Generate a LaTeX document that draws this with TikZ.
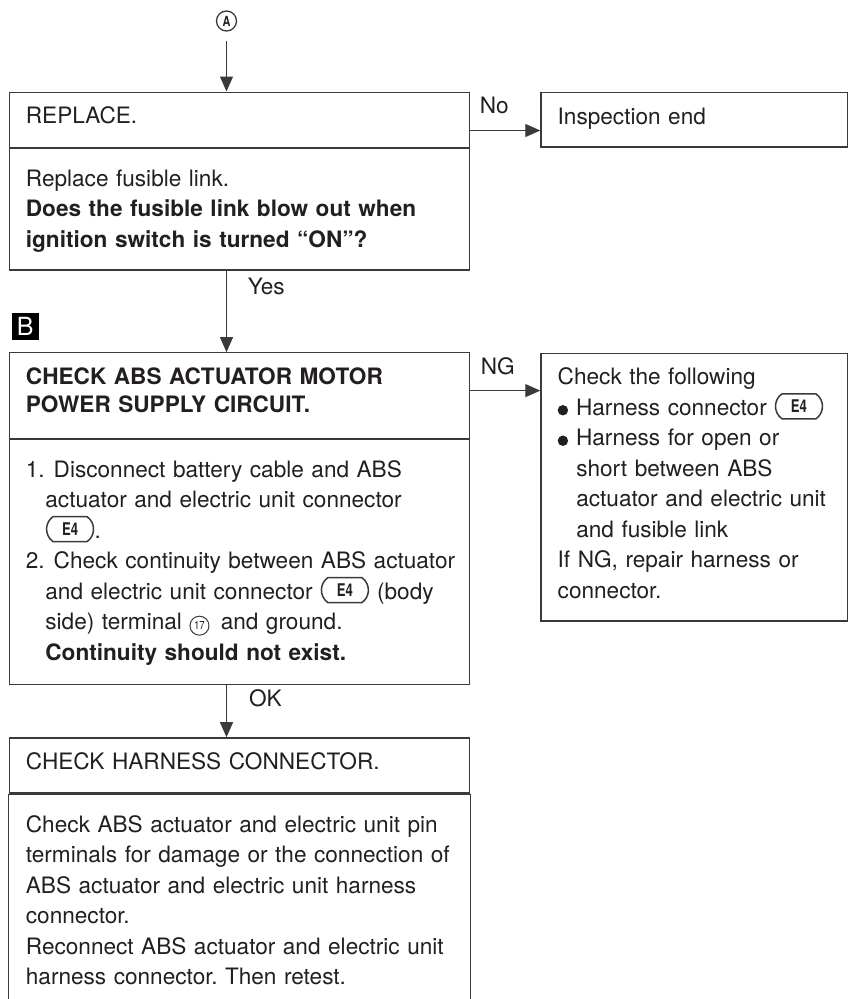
\documentclass[tikz,border=0pt]{standalone}
\usepackage{graphicx}
\usepackage{fontspec}
\setmainfont{TeX Gyre Heros}
\usetikzlibrary{arrows.meta, positioning, shapes.misc, calc}
\definecolor{ink}{HTML}{231F20}
\definecolor{rule}{HTML}{3A3A3A}

\newcommand{\bodyfont}{\fontsize{22.6}{30.5}\selectfont\frenchspacing}
% inline symbols: connector tag, terminal number, bullet
\newcommand{\conn}[1]{\tikz[baseline={([yshift=-2.75pt]c.base)}]\node[connbox] (c) {\scalebox{0.75}[1]{\bfseries #1}};}
\newcommand{\pin}[1]{\tikz[baseline=(p.base)]\node[pinbox] (p) {\scalebox{0.85}[1]{#1}};}
\newcommand{\blt}{\tikz[baseline=0pt]\fill[ink] (5pt,5.2pt) circle[radius=5.2pt];\hspace{8pt}}

\begin{document}
\begin{tikzpicture}[x=1pt, y=-1pt, font=\bodyfont, >={Triangle[length=15pt, width=13pt]},
    box/.style={draw=rule, line width=1.3pt, text=ink, inner xsep=16.75pt, inner ysep=0pt,
      text width=427pt, align=left, execute at begin node={\rightskip=0pt plus 1fil minus 60pt}},
    side/.style={box, text width=273pt},
    divider/.style={draw=rule, line width=2.2pt},
    arr/.style={->, draw=rule, line width=1.2pt},
    lbl/.style={text=ink, inner sep=0pt},
    connbox/.style={rounded rectangle, rounded rectangle arc length=110, draw=rule, line width=1.5pt,
      minimum width=47pt, minimum height=25pt, inner sep=0pt, text width=, text height=, text depth=,
      align=center, text=ink, font=\fontsize{17.5}{17.5}\selectfont},
    pinbox/.style={circle, draw=rule, line width=1pt, minimum size=19pt, inner sep=0pt,
      text width=, text height=, text depth=, align=center, text=ink, font=\fontsize{11.5}{11.5}\selectfont}]

  \useasboundingbox (0,0) rectangle (850,999);

  \node[circle, draw=rule, line width=1.3pt, minimum size=20pt, inner sep=0pt, text=ink,
    font=\fontsize{14}{14}\selectfont] (cA) at (226.5,21) {\scalebox{0.78}[1]{\bfseries A}};

  % replace step
  \node[box, anchor=north west, text height=31.8pt, text depth=23.4pt] (rep) at (8.5,91.5) {REPLACE.};
  \node[box, below=0pt of rep, text height=37.6pt, text depth=83.7pt] (repb)
    {Replace fusible link.\\
     \textbf{Does the fusible link blow out when}\\
     \textbf{ignition switch is turned “ON”?}};
  \node[side, right=70pt of rep, text height=31.6pt, text depth=22.7pt] (done) {Inspection end};
  \draw[divider] (repb.north west) -- (repb.north east);

  \node[fill=black, text=white, minimum size=27pt, inner sep=0pt,
    font=\fontsize{25}{25}\selectfont] (mkB) at (25.3,326.3) {B};

  % motor power supply
  \node[box, below=81.5pt of repb, text height=31.5pt, text depth=54pt,
    font={\fontsize{22.6}{28}\selectfont}] (chk)
    {\textbf{CHECK ABS ACTUATOR MOTOR}\\
     \textbf{POWER SUPPLY CIRCUIT.}};
  \node[box, below=0pt of chk, text height=37.7pt, text depth=207.3pt] (chkb)
    {1.\hspace{9pt}Disconnect battery cable and ABS\\
     \hspace*{19.5pt}actuator and electric unit connector\\
     \hspace*{19.5pt}\conn{E4}.\\
     2.\hspace{9pt}Check continuity between ABS actuator\\
     \hspace*{19.5pt}and electric unit connector \conn{E4} (body\\
     \hspace*{19.5pt}side) terminal \pin{17}\, and ground.\\
     \hspace*{19.5pt}\textbf{Continuity should not exist.}};
  \draw[divider] (chkb.north west) -- (chkb.north east);
  \node[side, right=70pt of chk.north east, anchor=north west, yshift=-0.5pt,
    text height=31.7pt, text depth=236pt] (fix)
    {Check the following\\
     \blt Harness connector \conn{E4}\\
     \blt Harness for open or\\
     \hspace*{18.6pt}short between ABS\\
     \hspace*{18.6pt}actuator and electric unit\\
     \hspace*{18.6pt}and fusible link\\
     If NG, repair harness or\\
     connector.};

  % harness connector
  \node[box, below=52pt of chkb, text height=32pt, text depth=23pt] (hc) {CHECK HARNESS CONNECTOR.};
  \node[box, draw=none, below=0pt of hc, text height=38pt, text depth=174pt] (hcb)
    {Check ABS actuator and electric unit pin\\
     terminals for damage or the connection of\\
     ABS actuator and electric unit harness\\
     connector.\\
     Reconnect ABS actuator and electric unit\\
     harness connector. Then retest.};
  \draw[draw=rule, line width=1.3pt] (hc.south west) -- (hcb.south west);
  \draw[draw=rule, line width=1.3pt] (hc.south east) -- (hcb.south east);
  \draw[divider] (hcb.north west) -- (hcb.north east);

  \draw[arr, shorten <=9pt] (cA) -- (cA |- rep.north);
  \draw[arr] ([yshift=-39pt]rep.north east) -- ([yshift=-39pt]rep.north east -| done.west)
    node[lbl, pos=0, anchor=base west, xshift=9pt, yshift=16.7pt] {No};
  \draw[arr] (repb.south -| cA) -- (chk.north -| cA)
    node[lbl, pos=0, anchor=base west, xshift=20.7pt, yshift=-23.7pt] {Yes};
  \draw[arr] ([yshift=-38.5pt]chk.north east) -- ([yshift=-38.5pt]chk.north east -| fix.west)
    node[lbl, pos=0, anchor=base west, xshift=10pt, yshift=16.3pt] {NG};
  \draw[arr] (chkb.south -| cA) -- (hc.north -| cA)
    node[lbl, pos=0, anchor=base west, xshift=22pt, yshift=-21.7pt] {OK};
\end{tikzpicture}
\end{document}
